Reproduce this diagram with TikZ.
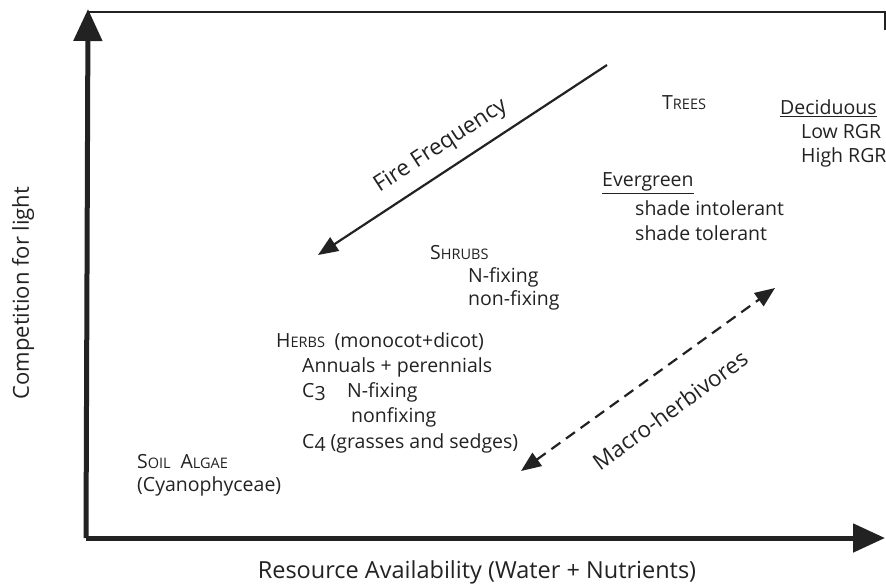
\documentclass[tikz,border=0pt]{standalone}
\usepackage{fontspec}
\setmainfont{Open Sans}
\usetikzlibrary{arrows.meta}
\definecolor{ink}{HTML}{222222}
\newcommand{\fsc}[2]{#1{\fontsize{14.5}{16}\selectfont #2}}
\begin{document}
\begin{tikzpicture}[x=1pt,y=-1pt,
  every node/.style={font=\fontsize{19.5}{23}\selectfont, text=ink, inner sep=0pt},
  lbl/.style={anchor=west},
  big/.style={font=\fontsize{22.5}{26}\selectfont},
  axis/.style={draw=ink, line width=5pt, -{Triangle[length=32pt,width=28pt]}},
  thin/.style={draw=ink, line width=1.6pt},
  trend/.style={draw=ink, line width=2.2pt, -{Triangle[length=20pt,width=16pt]}},
  both/.style={draw=ink, line width=2.2pt, dash pattern=on 11pt off 7pt, {Triangle[length=20pt,width=16pt]}-{Triangle[length=20pt,width=16pt]}}]
\useasboundingbox (0,0) rectangle (886,587);
% frame
\coordinate (O) at (88,538);
\coordinate (Ytip) at (88,9);
\coordinate (Xtip) at (885,538);
\coordinate (TL) at (88,12);
\coordinate (TR) at (885,12);
\coordinate (TRb) at (885,30);
\draw[thin] (TL) -- (TR) -- (TRb);
\draw[axis] (86,538) -- (Ytip);
\draw[axis] (86,538) -- (Xtip);
% axis labels
\node[font=\fontsize{22}{26}\selectfont] (ylab) at (23,293) [rotate=90] {Competition for light};
\node[font=\fontsize{23.5}{27}\selectfont] (xlab) at (477,572) {Resource Availability (Water + Nutrients)};
% fire frequency arrow
\coordinate (F1) at (607,65);
\coordinate (F2) at (318,255);
\draw[trend] (F1) -- (F2);
\node[big] (fire) at (441,146) [rotate=33] {Fire Frequency};
% macro-herbivores
\coordinate (M1) at (521,471);
\coordinate (M2) at (775,288);
\draw[both] (M1) -- (M2);
\node[big] (macro) at (670,410) [rotate=36] {Macro-herbivores};
% trees
\node[lbl] (trees) at (662,103) {\fsc{T}{REES}};
\node[lbl] (decid) at (780,108) {\underline{Deciduous}};
\node[lbl] (lowrgr) at (801,132) {Low RGR};
\node[lbl] (highrgr) at (801,157) {High RGR};
\node[lbl] (ever) at (602,183) {\underline{Evergreen}};
\node[lbl] (intol) at (635,208) {shade intolerant};
\node[lbl] (tol) at (635,233) {shade tolerant};
% shrubs
\node[lbl] (shrubs) at (430,253) {\fsc{S}{HRUBS}};
\node[lbl] (nfix) at (468,277) {N-fixing};
\node[lbl] (nonfix) at (468,300) {non-fixing};
% herbs
\node[lbl] (herbs) at (276,342) {\fsc{H}{ERBS}\enspace(monocot+dicot)};
\node[lbl] (annual) at (302,367) {Annuals + perennials};
\node[lbl] (c3) at (302,392) {C\raisebox{-0.35ex}{3}};
\node[lbl] (c3n) at (347,392) {N-fixing};
\node[lbl] (c3non) at (351,417) {nonfixing};
\node[lbl] (c4) at (302,443) {C\raisebox{-0.35ex}{4} (grasses and sedges)};
% soil algae
\node[lbl] (algae) at (137,462) {\fsc{S}{OIL}\enspace\fsc{A}{LGAE}};
\node[lbl] (cyano) at (137,486) {(Cyanophyceae)};
\end{tikzpicture}
\end{document}
